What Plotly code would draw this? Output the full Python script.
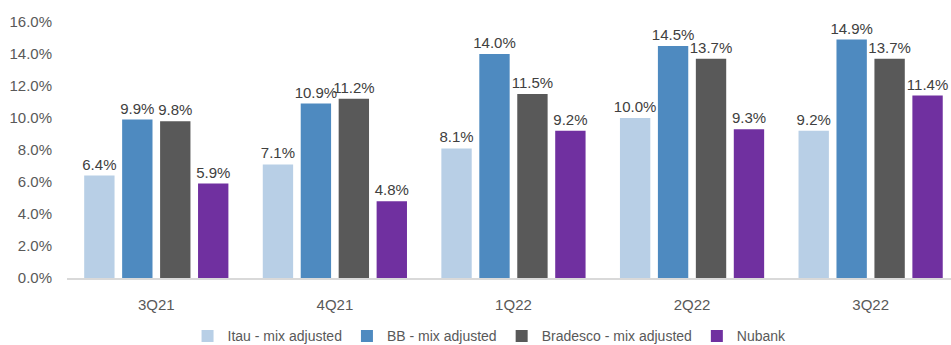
import plotly.graph_objects as go

categories = ["3Q21", "4Q21", "1Q22", "2Q22", "3Q22"]
series_names = ["Itau - mix adjusted", "BB - mix adjusted", "Bradesco - mix adjusted", "Nubank"]
itau = [6.4, 7.1, 8.1, 10.0, 9.2]
bb = [9.9, 10.9, 14.0, 14.5, 14.9]
bradesco = [9.8, 11.2, 11.5, 13.7, 13.7]
nubank = [5.9, 4.8, 9.2, 9.3, 11.4]
colors = ["#B8CFE6", "#4E8AC0", "#595959", "#7030A0"]
y_ticks = [0, 2, 4, 6, 8, 10, 12, 14, 16]

FONT = "Liberation Sans Narrow, Arial Narrow, Liberation Sans, Arial, sans-serif"

fig = go.Figure()
for name, vals, col in zip(series_names, [itau, bb, bradesco, nubank], colors):
    fig.add_trace(go.Bar(
        x=categories, y=vals, name=name,
        marker=dict(color=col, line=dict(width=0)),
        texttemplate="%{y:.1f}%", textposition="outside",
        constraintext="none",
        textfont=dict(family=FONT, size=15, color="#404040"),
        cliponaxis=False,
    ))

fig.update_layout(
    width=951, height=345,
    margin=dict(l=67, r=0, t=22, b=67, autoexpand=False),
    paper_bgcolor="white", plot_bgcolor="white",
    barmode="group", bargap=0.15, bargroupgap=0.2,
    font=dict(family=FONT, size=15, color="#595959"),
    showlegend=True,
    legend=dict(orientation="h", xref="paper", x=0.478, xanchor="center",
                yref="container", y=0.025, yanchor="middle",
                font=dict(family=FONT, size=14, color="#595959"),
                itemwidth=30, tracegroupgap=0, traceorder="normal"),
    xaxis=dict(range=[-0.5, 4.45], showgrid=False, showline=True, linecolor="#D9D9D9",
               linewidth=2, ticks="", tickfont=dict(family=FONT, size=15, color="#595959"),
               ticklabelstandoff=12),
    yaxis=dict(range=[0, 16], tickvals=y_ticks, ticktext=[f"{v:.1f}%" for v in y_ticks],
               showgrid=False, zeroline=False, showline=False, ticks="",
               tickfont=dict(family=FONT, size=15, color="#595959"), ticklabelstandoff=14),
)

fig.write_html("out.html")
